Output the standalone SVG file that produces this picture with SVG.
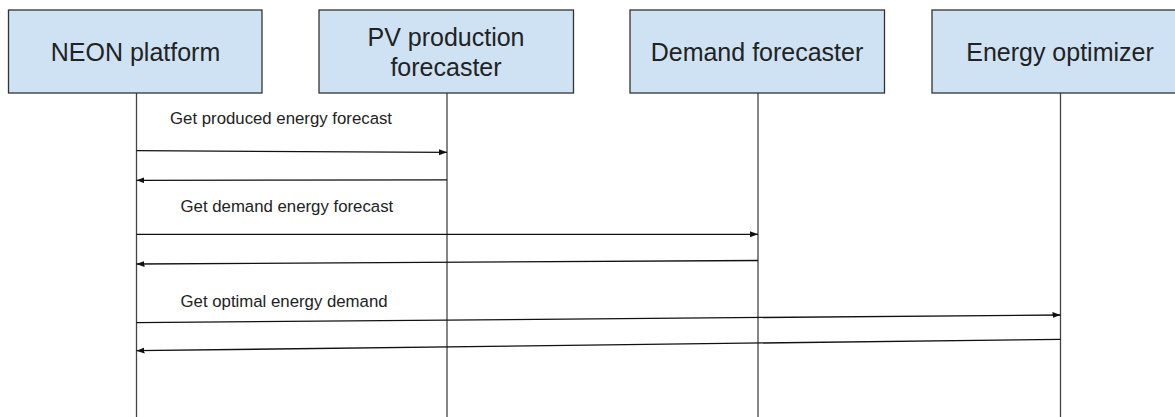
<svg xmlns="http://www.w3.org/2000/svg" width="1175" height="417" viewBox="0 0 1175 417">
  <style>
    .box { fill: #cfe2f3; stroke: #333333; stroke-width: 1.3; }
    .title { font-family: "Liberation Sans", Arial, sans-serif; font-size: 25px; fill: #222222; text-anchor: middle; }
    .life { stroke: #444444; stroke-width: 1.3; fill: none; }
    .msg { stroke: #111111; stroke-width: 1.3; fill: none; marker-end: url(#arrow); }
    .label { font-family: "Liberation Sans", Arial, sans-serif; font-size: 16.8px; fill: #222222; }
  </style>
  <defs>
    <marker id="arrow" markerWidth="9" markerHeight="7" refX="8" refY="3" orient="auto" markerUnits="userSpaceOnUse">
      <path d="M0,0 L8,3 L0,6 Z" fill="#111111"/>
    </marker>
  </defs>
  <rect width="1175" height="417" fill="#ffffff"/>

  <g id="lifelines">
    <line class="life" x1="136.5" y1="93" x2="136.5" y2="417"/>
    <line class="life" x1="447" y1="93" x2="447" y2="417"/>
    <line class="life" x1="758" y1="93" x2="758" y2="417"/>
    <line class="life" x1="1060.5" y1="93" x2="1060.5" y2="417"/>
  </g>

  <g id="node-neon">
    <rect class="box" x="8.5" y="10" width="253.5" height="83"/>
    <text class="title" x="135.5" y="61">NEON platform</text>
  </g>
  <g id="node-pv">
    <rect class="box" x="319" y="10" width="254.5" height="83"/>
    <text class="title" x="446" y="46">PV production</text>
    <text class="title" x="446" y="76">forecaster</text>
  </g>
  <g id="node-demand">
    <rect class="box" x="630" y="10" width="254.5" height="83"/>
    <text class="title" x="757" y="61">Demand forecaster</text>
  </g>
  <g id="node-optimizer">
    <rect class="box" x="932" y="10" width="256" height="83"/>
    <text class="title" x="1060" y="61">Energy optimizer</text>
  </g>

  <g id="connectors">
    <line class="msg" x1="136.5" y1="150.7" x2="447" y2="152.3"/>
    <line class="msg" x1="447" y1="179.8" x2="136.5" y2="180.3"/>
    <line class="msg" x1="136.5" y1="234.3" x2="758" y2="234.3"/>
    <line class="msg" x1="758" y1="260.5" x2="136.5" y2="264"/>
    <line class="msg" x1="136.5" y1="322.7" x2="1060.5" y2="315"/>
    <line class="msg" x1="1060.5" y1="339.3" x2="136.5" y2="350.7"/>
  </g>

  <g id="labels">
    <text class="label" x="170" y="124">Get produced energy forecast</text>
    <text class="label" x="180.5" y="211.7">Get demand energy forecast</text>
    <text class="label" x="180.5" y="306.5">Get optimal energy demand</text>
  </g>
</svg>
